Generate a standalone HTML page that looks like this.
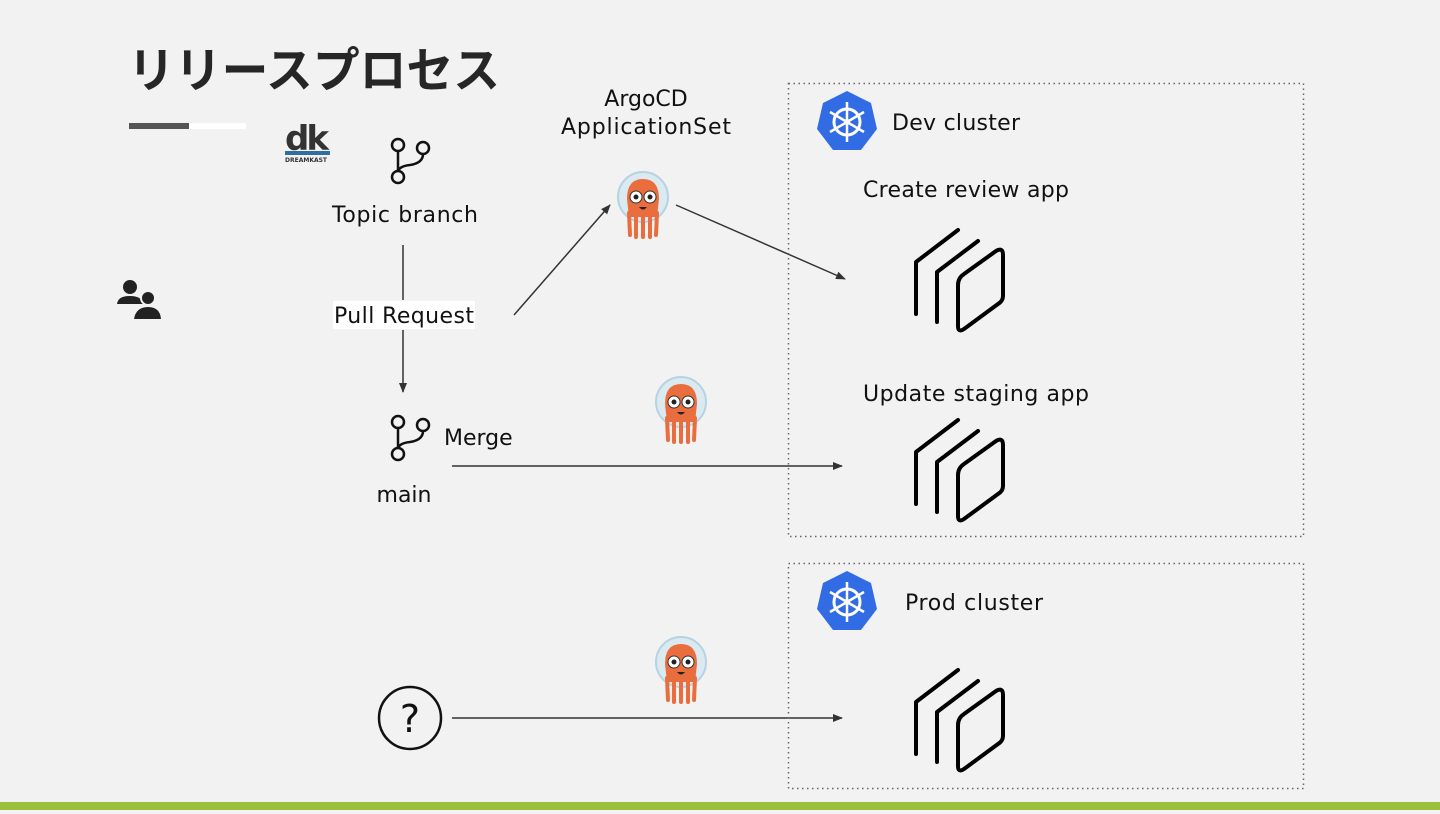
<!DOCTYPE html>
<html><head><meta charset="utf-8"><style>
html,body{margin:0;padding:0;background:#f2f2f2;}
body{width:1440px;height:810px;overflow:hidden;position:relative;font-family:"DejaVu Sans","Liberation Sans","Noto Sans CJK JP",sans-serif;}
svg text{font-family:"DejaVu Sans","Liberation Sans",sans-serif;fill:#111;}
</style></head><body>
<svg width="1440" height="810" viewBox="0 0 1440 810" xmlns="http://www.w3.org/2000/svg">
<defs>
<marker id="ah" markerWidth="10" markerHeight="10" refX="9" refY="5" orient="auto" markerUnits="userSpaceOnUse"><path d="M0,1 L10,5 L0,9 z" fill="#333"/></marker>
<g id="argo">
<circle cx="0" cy="-8" r="25" fill="#dbe9f0" stroke="#b5d3e3" stroke-width="2"/>
<path d="M-16,-6 Q-16,-26 0,-26 Q16,-26 16,-6 L14,12 L-14,12 z" fill="#e96d3d"/>
<path d="M-14,8 L-13,30 M-7,8 L-7,32 M0,8 L0,32 M7,8 L7,32 M14,8 L13,30" stroke="#e96d3d" stroke-width="4" stroke-linecap="round"/>
<circle cx="-7" cy="-8" r="6" fill="#fff" stroke="#333" stroke-width="1"/><circle cx="7" cy="-8" r="6" fill="#fff" stroke="#333" stroke-width="1"/>
<circle cx="-7" cy="-8" r="2.5" fill="#222"/><circle cx="7" cy="-8" r="2.5" fill="#222"/>
<path d="M-4,2 Q0,7 4,2 z" fill="#222"/>
</g>
<g id="k8s">
<polygon points="0,-31 24,-19 30,7 14,28 -14,28 -30,7 -24,-19" fill="#326ce5"/>
<circle r="13" fill="none" stroke="#fff" stroke-width="3"/>
<g stroke="#fff" stroke-width="2.5"><line x1="0" y1="-20" x2="0" y2="20"/><line x1="-17" y1="-10" x2="17" y2="10"/><line x1="-17" y1="10" x2="17" y2="-10"/></g>
<circle r="3" fill="#fff"/>
</g>
<g id="stack" fill="none" stroke="#000" stroke-width="4" stroke-linecap="round" stroke-linejoin="round">
<path d="M916,314 L916,262 L958,230"/>
<path d="M937,322 L937,272 L978,241"/>
<path d="M958,285 Q958,278 964,274 L996,251 Q1003,247 1003,255 L1003,296 Q1003,301 998,304 L964,329 Q958,333 958,326 z"/>
</g>
<g id="branch" fill="none" stroke="#111" stroke-width="2.5">
<circle cx="0" cy="0" r="6"/><circle cx="25" cy="3" r="6"/><circle cx="0" cy="32" r="6"/>
<path d="M0,6 L0,26 M25,9 Q25,18 12,20 Q2,21 0,26"/>
</g>
</defs>

<text x="128" y="87" textLength="372" lengthAdjust="spacingAndGlyphs" style="font-family:'Noto Sans CJK JP',sans-serif;font-weight:700;font-size:48px;fill:#262626">リリースプロセス</text>
<rect x="129" y="123" width="60" height="6" fill="#555"/>
<rect x="189" y="123" width="57" height="6" fill="#fff"/>

<text x="285" y="150" style="font-weight:700;font-size:34px;fill:#333;letter-spacing:-3px">dk</text>
<rect x="285" y="151" width="45" height="4" fill="#2f6ea0"/>
<text x="285" y="162" style="font-size:6px;font-weight:700;fill:#333">DREAMKAST</text>

<g fill="#222"><circle cx="130" cy="287" r="7"/><path d="M117,304 Q118,296 130,296 Q142,296 143,304 z"/>
<circle cx="148" cy="298" r="7" stroke="#f2f2f2" stroke-width="2"/><path d="M134,319 Q136,307 148,307 Q160,307 161,319 z"/></g>

<use href="#branch" x="398" y="145"/>
<text x="405" y="222" text-anchor="middle" font-size="22" textLength="146">Topic branch</text>
<line x1="403" y1="245" x2="403" y2="300" stroke="#333" stroke-width="1.5"/>
<rect x="333" y="301" width="142" height="28" fill="#fff"/>
<text x="404" y="323" text-anchor="middle" font-size="22" textLength="140">Pull Request</text>
<line x1="403" y1="330" x2="403" y2="392" stroke="#333" stroke-width="1.5" marker-end="url(#ah)"/>

<use href="#branch" x="398" y="422"/>
<text x="444" y="445" font-size="22">Merge</text>
<text x="404" y="502" text-anchor="middle" font-size="22">main</text>

<text x="646" y="106" text-anchor="middle" font-size="22">ArgoCD</text>
<text x="646" y="134" text-anchor="middle" font-size="22" textLength="170">ApplicationSet</text>
<use href="#argo" x="643" y="205"/>
<use href="#argo" x="681" y="410"/>
<use href="#argo" x="681" y="670"/>

<line x1="514" y1="315" x2="610" y2="205" stroke="#333" stroke-width="1.5" marker-end="url(#ah)"/>
<line x1="676" y1="205" x2="845" y2="279" stroke="#333" stroke-width="1.5" marker-end="url(#ah)"/>
<line x1="452" y1="466" x2="842" y2="466" stroke="#333" stroke-width="1.5" marker-end="url(#ah)"/>
<line x1="452" y1="718" x2="842" y2="718" stroke="#333" stroke-width="1.5" marker-end="url(#ah)"/>

<circle cx="410" cy="718" r="31" fill="none" stroke="#111" stroke-width="2.5"/>
<text x="410" y="732" text-anchor="middle" font-size="38">?</text>

<rect x="788.5" y="83.5" width="515" height="453" fill="none" stroke="#666" stroke-width="1.5" stroke-dasharray="1.5,3.5"/>
<rect x="788.5" y="563.5" width="515" height="225" fill="none" stroke="#666" stroke-width="1.5" stroke-dasharray="1.5,3.5"/>

<use href="#k8s" x="847" y="122"/>
<text x="892" y="130" font-size="22" textLength="128">Dev cluster</text>
<text x="863" y="197" font-size="22" textLength="206">Create review app</text>
<use href="#stack"/>
<text x="863" y="401" font-size="22" textLength="226">Update staging app</text>
<use href="#stack" y="190"/>

<use href="#k8s" x="847" y="602"/>
<text x="905" y="610" font-size="22" textLength="138">Prod cluster</text>
<use href="#stack" y="440"/>

<rect x="0" y="802" width="1440" height="8" fill="#9cbf3c"/>
</svg>
</body></html>
